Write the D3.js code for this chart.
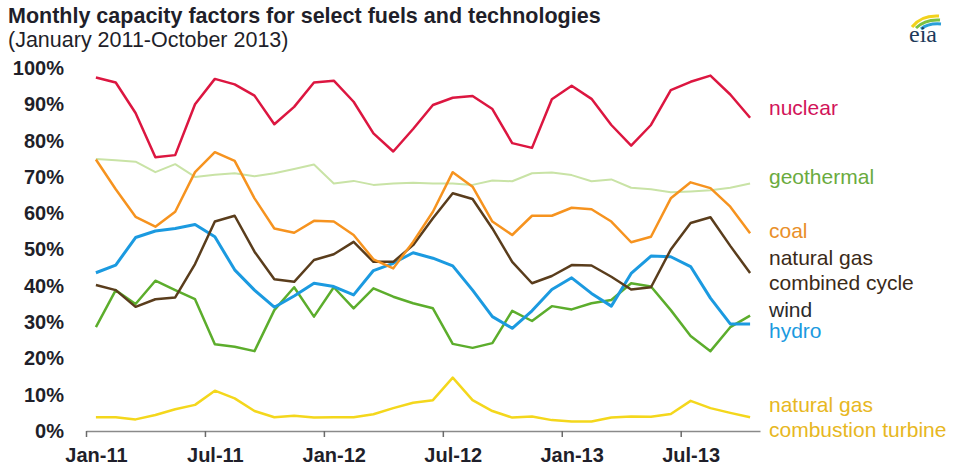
<!DOCTYPE html>
<html>
<head>
<meta charset="utf-8">
<script src="https://cdn.jsdelivr.net/npm/d3@7"></script>
<style>
  body { margin: 0; background: #fff; }
  svg { display: block; font-family: "Liberation Sans", Arial, sans-serif; }
</style>
</head>
<body>
<div class="canvas"></div>
<script>
// DATA ------------------------------------------------------------------------
const months = [
    'Jan-11','Feb-11','Mar-11','Apr-11','May-11','Jun-11','Jul-11','Aug-11','Sep-11','Oct-11','Nov-11','Dec-11',
    'Jan-12','Feb-12','Mar-12','Apr-12','May-12','Jun-12','Jul-12','Aug-12','Sep-12','Oct-12','Nov-12','Dec-12',
    'Jan-13','Feb-13','Mar-13','Apr-13','May-13','Jun-13','Jul-13','Aug-13','Sep-13','Oct-13'
];
const xTickLabels = ['Jan-11', 'Jul-11', 'Jan-12', 'Jul-12', 'Jan-13', 'Jul-13'];
const yTicks = [0, 0.1, 0.2, 0.3, 0.4, 0.5, 0.6, 0.7, 0.8, 0.9, 1.0];

// capacity factors, percent
const nuclear = [97.4, 96.0, 87.6, 75.4, 76.0, 90.0, 97.0, 95.5, 92.4, 84.5, 89.3, 96.0,
                 96.5, 90.7, 82.0, 77.0, 83.2, 89.8, 91.8, 92.3, 88.7, 79.3, 78.0, 91.4,
                 95.1, 91.5, 84.3, 78.6, 84.3, 93.9, 96.2, 97.9, 92.7, 86.3];
const geothermal = [74.9, 74.6, 74.2, 71.3, 73.5, 70.0, 70.6, 71.0, 70.2, 71.0, 72.2, 73.4,
                    68.2, 68.9, 67.8, 68.2, 68.4, 68.2, 68.2, 67.8, 69.0, 68.8, 71.0, 71.2,
                    70.5, 68.8, 69.3, 67.0, 66.6, 65.8, 66.0, 66.3, 67.0, 68.2];
const coal = [74.8, 66.6, 59.0, 56.3, 60.4, 71.3, 76.8, 74.4, 64.1, 55.8, 54.6, 57.9,
              57.7, 54.0, 47.3, 44.8, 52.1, 60.4, 71.3, 67.3, 57.7, 54.0, 59.3, 59.3,
              61.5, 61.1, 57.7, 52.0, 53.5, 64.1, 68.5, 66.9, 61.8, 54.5];
const gasCC = [40.2, 38.8, 34.2, 36.3, 36.8, 46.0, 57.7, 59.3, 49.4, 41.8, 41.1, 47.1,
               48.7, 52.1, 46.6, 46.6, 51.2, 58.6, 65.5, 63.9, 55.8, 46.6, 40.7, 42.7,
               45.7, 45.6, 42.5, 39.0, 39.6, 50.0, 57.3, 58.9, 51.0, 43.5];
const wind = [28.6, 38.8, 35.0, 41.4, 38.8, 36.3, 23.9, 23.2, 22.0, 33.3, 39.6, 31.5,
              39.6, 33.8, 39.3, 37.0, 35.2, 33.8, 24.0, 22.9, 24.2, 33.1, 30.3, 34.4,
              33.5, 35.2, 36.1, 40.7, 39.8, 33.3, 26.2, 22.0, 28.6, 31.8];
const hydro = [43.6, 45.7, 53.3, 55.1, 55.8, 56.9, 53.5, 44.4, 38.8, 34.1, 37.2, 40.7,
               39.8, 37.5, 44.2, 46.2, 49.1, 47.6, 45.5, 38.8, 31.5, 28.3, 33.1, 39.0,
               42.2, 37.9, 34.4, 43.4, 48.2, 48.0, 45.3, 36.6, 29.5, 29.5];
const gasCT = [3.8, 3.8, 3.2, 4.4, 6.0, 7.2, 11.1, 9.0, 5.5, 3.8, 4.2, 3.7,
               3.8, 3.8, 4.6, 6.3, 7.8, 8.5, 14.7, 8.5, 5.5, 3.7, 4.0, 3.0,
               2.6, 2.6, 3.7, 4.0, 3.9, 4.7, 8.3, 6.3, 5.0, 3.8];

// ly = baseline of the first line of the direct label
const series = [
    { name: ['geothermal'], values: geothermal, color: '#c9e3a6', label: '#6aab3e', width: 2, ly: 184 },
    { name: ['natural gas', 'combustion turbine'], values: gasCT, color: '#f4d71c', label: '#e7b722', width: 2.5, ly: 412 },
    { name: ['wind'], values: wind, color: '#5cad2c', label: '#2b2b2b', width: 2.5, ly: 317 },
    { name: ['hydro'], values: hydro, color: '#1b9ae0', label: '#1b9ae0', width: 3, ly: 338 },
    { name: ['natural gas', 'combined cycle'], values: gasCC, color: '#5a3d1c', label: '#3b2a18', width: 2.5, ly: 265 },
    { name: ['coal'], values: coal, color: '#f6931f', label: '#e98f2a', width: 2.5, ly: 238 },
    { name: ['nuclear'], values: nuclear, color: '#dc1640', label: '#d2145a', width: 2.5, ly: 115 }
];

// SET UP GRAPH ----------------------------------------------------------------
const width = 959;
const height = 471;

const svg = d3.select('.canvas')
    .append('svg')
        .attr('width', width)
        .attr('height', height);

// month index scale: each month takes one slot, points sit in the middle
const x = d3.scaleLinear()
    .domain([0, months.length])
    .range([86, 760]);
const y = d3.scaleLinear()
    .domain([0, 1])
    .range([431, 68]);
const slot = x(1) - x(0);

// Titles
svg.append('text')
    .attr('x', 8)
    .attr('y', 23)
    .text('Monthly capacity factors for select fuels and technologies')
    .style('font-size', '21.5px')
    .style('font-weight', 700)
    .attr('fill', '#1f1f2a');

svg.append('text')
    .attr('x', 8)
    .attr('y', 47)
    .text('(January 2011-October 2013)')
    .style('font-size', '21.5px')
    .attr('fill', '#1f1f2a');

// Y axis (labels only)
const yAxis = d3.axisLeft(y)
    .tickValues(yTicks)
    .tickSize(0)
    .tickPadding(0)
    .tickFormat(d3.format('.0%'));

const yAxisGroup = svg.append('g')
    .attr('transform', 'translate(64, 0)')
    .call(yAxis);
yAxisGroup.select('.domain').remove();
yAxisGroup.selectAll('text')
    .attr('fill', '#1f1f2a')
    .style('font-size', '20px')
    .style('font-weight', 700)
    .style('font-family', '"Liberation Sans", Arial, sans-serif');

// X axis: ticks on month boundaries, labels centred on the month
const tickIdx = xTickLabels.map(l => months.indexOf(l));
const xAxis = d3.axisBottom(x)
    .tickValues(tickIdx)
    .tickSize(6)
    .tickSizeOuter(0)
    .tickPadding(11)
    .tickFormat(i => months[i]);

const xAxisGroup = svg.append('g')
    .attr('transform', `translate(0, ${y(0)})`)
    .call(xAxis);
xAxisGroup.select('.domain')
    .attr('stroke', '#8a8a8a')
    .attr('stroke-width', 1.5);
xAxisGroup.selectAll('line')
    .attr('stroke', '#6a6a6a')
    .attr('stroke-width', 1.5);
xAxisGroup.selectAll('text')
    .attr('dx', slot / 2)
    .attr('fill', '#1f1f2a')
    .style('font-size', '20px')
    .style('font-weight', 700)
    .style('font-family', '"Liberation Sans", Arial, sans-serif');

// Lines
const line = d3.line()
    .x((d, i) => x(i + 0.5))
    .y(d => y(d / 100));

svg.selectAll('path.series')
    .data(series)
    .enter()
    .append('path')
        .attr('class', 'series')
        .attr('d', d => line(d.values))
        .attr('fill', 'none')
        .attr('stroke', d => d.color)
        .attr('stroke-width', d => d.width)
        .attr('stroke-linejoin', 'round');

// Direct labels
const labels = svg.selectAll('text.label')
    .data(series)
    .enter()
    .append('text')
        .attr('class', 'label')
        .attr('x', 769)
        .attr('y', d => d.ly)
        .attr('fill', d => d.label)
        .style('font-size', '21px');

labels.selectAll('tspan')
    .data(d => d.name)
    .enter()
    .append('tspan')
        .attr('x', 769)
        .attr('dy', (d, i) => i === 0 ? 0 : 24.5)
        .text(d => d);

// eia logo
const logo = svg.append('g').attr('transform', 'translate(906, 12)');
logo.append('path')
    .attr('d', 'M6,15 Q15,3 33,4')
    .attr('fill', 'none')
    .attr('stroke', '#f2d21c')
    .attr('stroke-width', 3);
logo.append('path')
    .attr('d', 'M10,16 Q19,7 34,8')
    .attr('fill', 'none')
    .attr('stroke', '#7cc142')
    .attr('stroke-width', 3);
logo.append('path')
    .attr('d', 'M15,17 Q22,11 35,12')
    .attr('fill', 'none')
    .attr('stroke', '#2a9fd8')
    .attr('stroke-width', 3);
logo.append('text')
    .attr('x', 17)
    .attr('y', 30)
    .attr('text-anchor', 'middle')
    .text('eia')
    .style('font-family', '"Liberation Serif", "DejaVu Serif", serif')
    .style('font-size', '24px')
    .attr('fill', '#1d3a5a');
</script>
</body>
</html>
